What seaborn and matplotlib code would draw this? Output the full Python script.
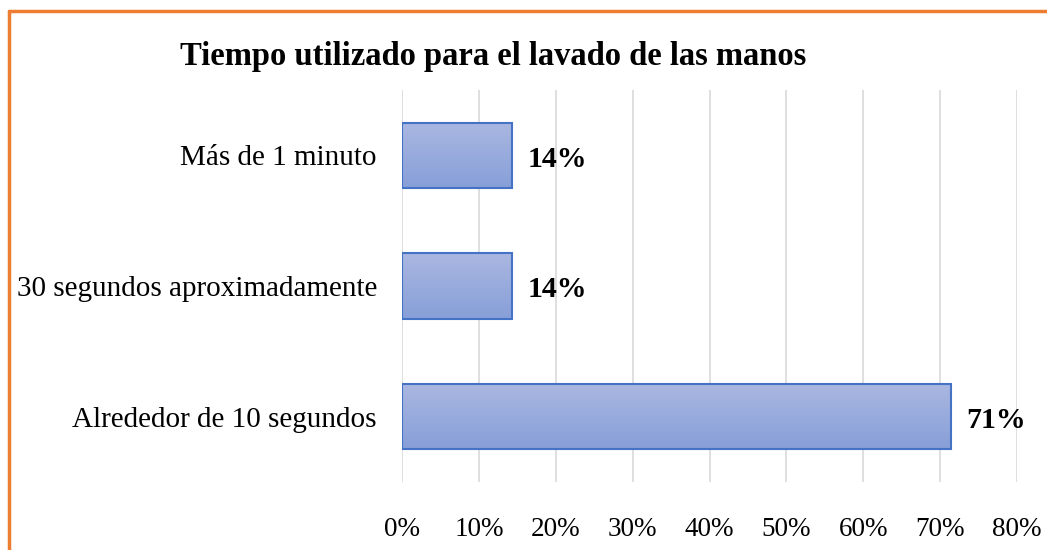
import matplotlib
matplotlib.use("Agg")
import matplotlib.pyplot as plt
import numpy as np
import pandas as pd
import seaborn as sns
from matplotlib.colors import LinearSegmentedColormap
from matplotlib.lines import Line2D

categorias = ["Más de 1 minuto", "30 segundos aproximadamente", "Alrededor de 10 segundos"]
porcentajes = [14.29, 14.29, 71.43]
etiquetas = ["14%", "14%", "71%"]
ticks = [0, 10, 20, 30, 40, 50, 60, 70, 80]

sns.set_theme(style="white")
plt.rcParams["font.family"] = ["Liberation Serif", "DejaVu Serif"]
plt.rcParams["text.color"] = "black"
plt.rcParams["xtick.color"] = "black"
plt.rcParams["ytick.color"] = "black"

df = pd.DataFrame({"categoria": categorias, "porcentaje": porcentajes})

fig = plt.figure(figsize=(10.47, 5.5), dpi=100)
ax = fig.add_axes([402 / 1047, 1 - 482 / 550, (1017 - 402) / 1047, (482 - 90) / 550])

sns.barplot(data=df, y="categoria", x="porcentaje", orient="h", width=0.5,
            color="#9aaedd", edgecolor="#4472c4", linewidth=1.5, ax=ax, zorder=3)

# degradado dentro de cada barra
grad = LinearSegmentedColormap.from_list("g", ["#aab7e1", "#879fd8"])
for p in ax.patches:
    x0, y0 = p.get_x(), p.get_y()
    w, h = p.get_width(), p.get_height()
    im = ax.imshow(np.linspace(0, 1, 64).reshape(-1, 1), cmap=grad, aspect="auto",
                   extent=[x0, x0 + w, y0 + h, y0], origin="upper", zorder=3.5,
                   interpolation="bilinear")
    im.set_clip_path(p)
    p.set_facecolor("none")
    p.set_zorder(4)

for i, (v, t) in enumerate(zip(porcentajes, etiquetas)):
    ax.text(v + 2.0, i + 0.03, t, va="center", ha="left", fontsize=21.5, fontweight="bold", color="black")

ax.set_xlim(0, 80)
ax.set_ylim(2.5, -0.5)
ax.set_xticks(ticks)
ax.set_xticklabels([f"{t}%" for t in ticks], fontsize=19.5)
ax.tick_params(axis="x", pad=25, length=0)
ax.tick_params(axis="y", pad=18, length=0, labelsize=21)
ax.set_xlabel("")
ax.set_ylabel("")
ax.grid(axis="x", color="#d9d9d9", linewidth=1.2, zorder=0)
for s in ax.spines.values():
    s.set_visible(False)

fig.text(493 / 1047, 1 - 57 / 550, "Tiempo utilizado para el lavado de las manos",
         ha="center", va="center", fontsize=23.5, fontweight="bold", color="black")

# marco naranja
fig.add_artist(Line2D([9 / 1047, 9 / 1047], [0, 1 - 11 / 550], transform=fig.transFigure,
                      color="#ed7d31", linewidth=2.5))
fig.add_artist(Line2D([9 / 1047, 1], [1 - 11 / 550, 1 - 11 / 550], transform=fig.transFigure,
                      color="#ed7d31", linewidth=2.5))

fig.savefig("out.png", dpi=100)
